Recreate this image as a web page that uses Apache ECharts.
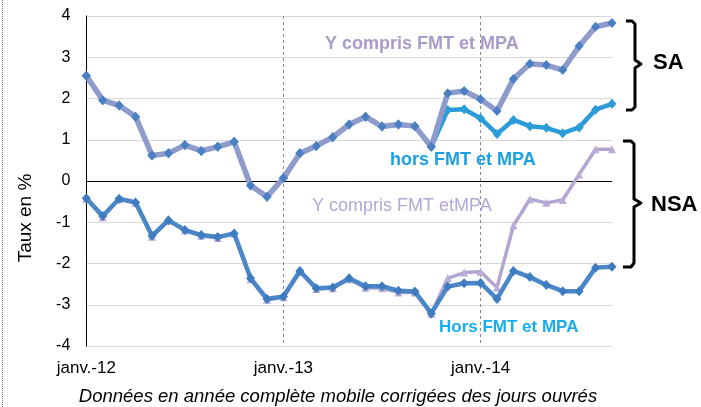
<!DOCTYPE html>
<html>
<head>
<meta charset="utf-8">
<script src="https://cdn.jsdelivr.net/npm/echarts@6/dist/echarts.min.js"></script>
<style>
html, body { margin: 0; padding: 0; background: #fff; }
#chart { width: 701px; height: 407px; }
</style>
</head>
<body>
<div id="chart"></div>
<script>
// mois (janv.-12 -> sept.-14)
var months = ['janv.-12', 'févr.-12', 'mars-12', 'avr.-12', 'mai-12', 'juin-12', 'juil.-12', 'août-12', 'sept.-12', 'oct.-12', 'nov.-12', 'déc.-12',
	'janv.-13', 'févr.-13', 'mars-13', 'avr.-13', 'mai-13', 'juin-13', 'juil.-13', 'août-13', 'sept.-13', 'oct.-13', 'nov.-13', 'déc.-13',
	'janv.-14', 'févr.-14', 'mars-14', 'avr.-14', 'mai-14', 'juin-14', 'juil.-14', 'août-14', 'sept.-14'];

// SA : y compris FMT et MPA
var saAvec = [2.55, 1.96, 1.83, 1.56, 0.62, 0.67, 0.87, 0.73, 0.83, 0.95, -0.11, -0.38,
	0.07, 0.67, 0.85, 1.06, 1.37, 1.56, 1.32, 1.37, 1.33, 0.83, 2.13, 2.18,
	1.98, 1.70, 2.47, 2.84, 2.81, 2.69, 3.27, 3.74, 3.83];
// SA : hors FMT et MPA
var saHors = [2.55, 1.96, 1.83, 1.56, 0.62, 0.67, 0.87, 0.73, 0.83, 0.95, -0.11, -0.38,
	0.07, 0.67, 0.85, 1.06, 1.37, 1.56, 1.32, 1.37, 1.33, 0.83, 1.72, 1.74,
	1.52, 1.14, 1.48, 1.33, 1.29, 1.16, 1.30, 1.73, 1.87];
// NSA : y compris FMT et MPA
var nsaAvec = [-0.43, -0.88, -0.44, -0.53, -1.35, -0.96, -1.20, -1.33, -1.38, -1.28, -2.38, -2.88,
	-2.82, -2.20, -2.62, -2.60, -2.38, -2.59, -2.60, -2.70, -2.70, -3.22, -2.36, -2.22,
	-2.20, -2.58, -1.08, -0.44, -0.53, -0.46, 0.16, 0.77, 0.77];
// NSA : hors FMT et MPA
var nsaHors = [-0.42, -0.85, -0.43, -0.52, -1.33, -0.95, -1.19, -1.31, -1.36, -1.27, -2.36, -2.86,
	-2.80, -2.18, -2.60, -2.58, -2.36, -2.55, -2.55, -2.66, -2.68, -3.21, -2.56, -2.48,
	-2.47, -2.86, -2.18, -2.33, -2.52, -2.67, -2.67, -2.10, -2.08];

var yTicks = [-4, -3, -2, -1, 0, 1, 2, 3, 4];

var FONT = '"Liberation Sans", Arial, sans-serif';

// une courbe
var makeLine = function(name, data, lineColor, width, symbol, symColor, size, z) {
	return {
		name: name,
		type: 'line',
		data: data,
		z: z,
		symbol: symbol,
		symbolSize: size,
		showAllSymbol: true,
		lineStyle: { color: lineColor, width: width },
		itemStyle: { color: symColor, borderWidth: 0 },
		emphasis: { disabled: true }
	};
};

// textes libres
var label = function(x, y, text, font, color, align) {
	return {
		type: 'text', x: x, y: y, z: 50,
		style: { text: text, font: font, fill: color, align: align || 'left', verticalAlign: 'middle' }
	};
};

var bracket = function(points) {
	return {
		type: 'polyline', z: 50,
		shape: { points: points },
		style: { stroke: '#000', lineWidth: 3, fill: null, lineJoin: 'round' }
	};
};

var splitColors = yTicks.map(function(v) { return v === 0 ? '#000' : '#d9d9d9'; });

var myChart = echarts.init(document.getElementById('chart'));
var option = {
	animation: false,
	backgroundColor: '#fff',
	grid: { left: 86.3, right: 89, top: 16, bottom: 61 },
	xAxis: {
		type: 'category',
		data: months,
		boundaryGap: false,
		axisLine: { show: false, onZero: false },
		axisTick: { show: false },
		axisLabel: { interval: 11, color: '#000', fontSize: 17, fontFamily: FONT, margin: 14 },
		splitLine: { show: true, interval: 11, lineStyle: { color: '#8c8c8c', type: [3, 3], width: 1 } }
	},
	yAxis: {
		type: 'value',
		min: -4, max: 4, interval: 1,
		axisLine: { show: true, onZero: false, lineStyle: { color: '#000', width: 1 } },
		axisTick: { show: false },
		axisLabel: { color: '#000', fontSize: 16, fontFamily: FONT, margin: 16 },
		splitLine: { show: true, lineStyle: { color: splitColors, width: 1 } }
	},
	series: [
		makeLine('NSA y compris FMT et MPA', nsaAvec, '#b3a5d1', 3.5, 'triangle', '#b9acd6', 8, 2),
		makeLine('NSA hors FMT et MPA', nsaHors, '#4a86c8', 4.5, 'diamond', '#3f7bc0', [9, 10], 3),
		makeLine('SA hors FMT et MPA', saHors, '#2b9cd8', 4.5, 'diamond', '#2b9cd8', [9, 10], 4),
		makeLine('SA y compris FMT et MPA', saAvec, '#8e9bcb', 5.5, 'diamond', '#4a80c2', [9, 10], 5)
	],
	graphic: [
		{ type: 'line', z: 50, shape: { x1: 2.5, y1: 0, x2: 2.5, y2: 407 }, style: { stroke: '#777', lineWidth: 1, lineDash: [1, 1] } },
		label(325, 44, 'Y compris FMT et MPA', 'bold 18px ' + FONT, '#a99bc9'),
		label(390, 160, 'hors FMT et MPA', 'bold 18px ' + FONT, '#1ba1e2'),
		label(312, 206, 'Y compris FMT etMPA', '18px ' + FONT, '#b4a7d6'),
		label(439, 327, 'Hors FMT et MPA', 'bold 17px ' + FONT, '#17aceb'),
		label(653, 63, 'SA', 'bold 22px ' + FONT, '#000'),
		label(651, 205, 'NSA', 'bold 22px ' + FONT, '#000'),
		bracket([[626, 21], [632, 21], [635, 24], [635, 60], [641, 64], [635, 68], [635, 107], [632, 110], [626, 110]]),
		bracket([[623, 141], [631, 141], [634, 144], [634, 199], [641, 203], [634, 207], [634, 263], [631, 267], [623, 267]]),
		{
			type: 'text', x: 26, y: 218, rotation: Math.PI / 2, z: 50,
			style: { text: 'Taux en %', font: '19px ' + FONT, fill: '#000', align: 'center', verticalAlign: 'middle' }
		},
		label(338, 397, 'Données en année complète mobile corrigées des jours ouvrés', 'italic 18.5px ' + FONT, '#000', 'center')
	]
};
myChart.setOption(option);
</script>
</body>
</html>
